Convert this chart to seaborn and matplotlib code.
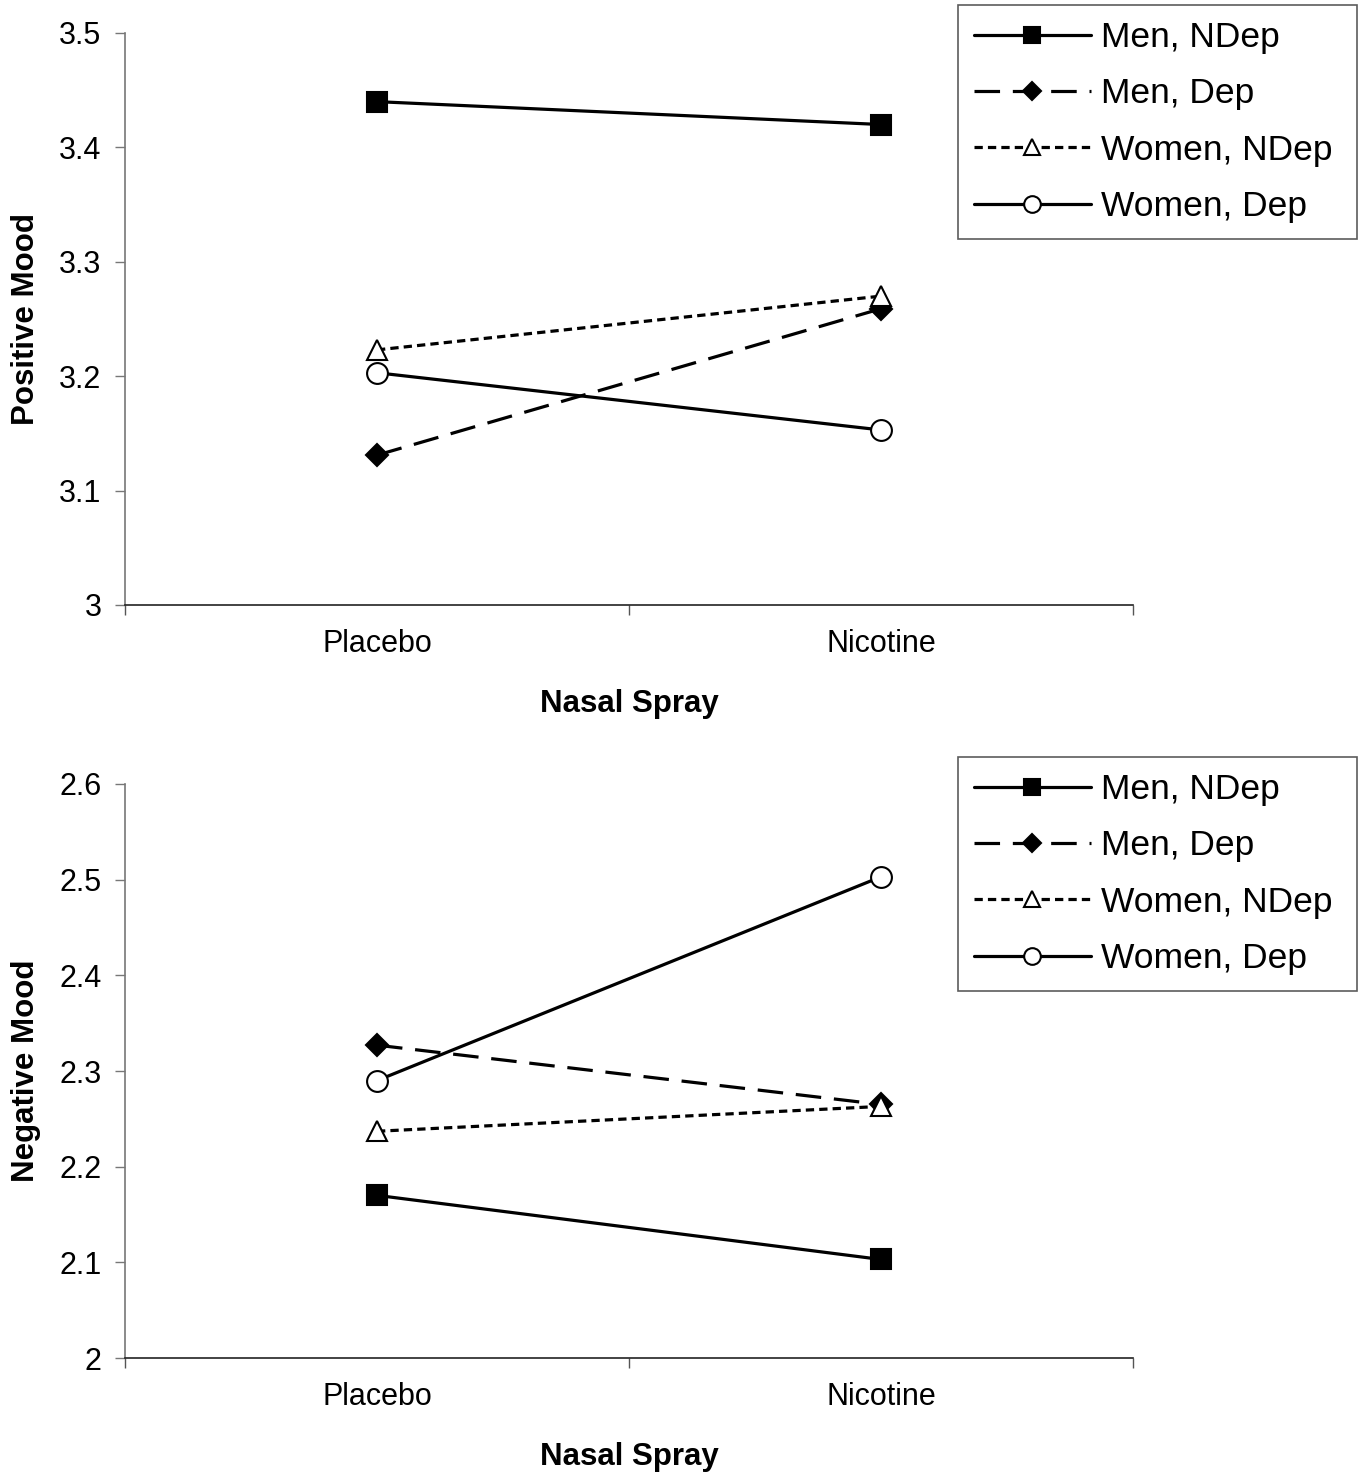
import matplotlib
matplotlib.use("Agg")
import matplotlib.pyplot as plt
import seaborn as sns
import pandas as pd
from matplotlib.ticker import FixedLocator, NullFormatter

sns.set_theme(style="white")
plt.rcParams['font.family'] = ['Liberation Sans', 'DejaVu Sans']
plt.rcParams['text.color'] = 'black'
plt.rcParams['axes.labelcolor'] = 'black'
plt.rcParams['xtick.color'] = 'black'
plt.rcParams['ytick.color'] = 'black'

conditions = ["Placebo", "Nicotine"]
groups = ["Men, NDep", "Men, Dep", "Women, NDep", "Women, Dep"]

positive_mood = {
    "Men, NDep": [3.440, 3.420],
    "Men, Dep": [3.131, 3.259],
    "Women, NDep": [3.223, 3.270],
    "Women, Dep": [3.203, 3.153],
}
negative_mood = {
    "Men, NDep": [2.170, 2.103],
    "Men, Dep": [2.327, 2.265],
    "Women, NDep": [2.237, 2.263],
    "Women, Dep": [2.290, 2.503],
}

styles = {
    "Men, NDep": dict(marker="s", dashes=None, mfc="black", ms=14),
    "Men, Dep": dict(marker="D", dashes=(8, 4), mfc="black", ms=11),
    "Women, NDep": dict(marker="^", dashes=(2.6, 1.6), mfc="white", ms=14),
    "Women, Dep": dict(marker="o", dashes=None, mfc="white", ms=15),
}

def build_df(d):
    rows = []
    for g in groups:
        for c, v in zip(conditions, d[g]):
            rows.append({"Group": g, "Condition": c, "Value": v})
    return pd.DataFrame(rows)

fig = plt.figure(figsize=(13.65, 14.74), dpi=100)
W, H = 1365, 1474
ax1 = fig.add_axes([125 / W, 1 - 605 / H, (1133 - 125) / W, (605 - 33) / H])
ax2 = fig.add_axes([125 / W, 1 - 1358 / H, (1133 - 125) / W, (1358 - 784) / H])

panels = [
    (ax1, build_df(positive_mood), "Positive Mood", (3.0, 3.5), [3.0, 3.1, 3.2, 3.3, 3.4, 3.5],
     ["3", "3.1", "3.2", "3.3", "3.4", "3.5"], 5),
    (ax2, build_df(negative_mood), "Negative Mood", (2.0, 2.6), [2.0, 2.1, 2.2, 2.3, 2.4, 2.5, 2.6],
     ["2", "2.1", "2.2", "2.3", "2.4", "2.5", "2.6"], 757),
]

for ax, df, ylabel, ylim, yticks, yticklabels, legtop in panels:
    for g in groups:
        sub = df[df["Group"] == g]
        st = styles[g]
        sns.lineplot(data=sub, x="Condition", y="Value", ax=ax, color="black",
                     linewidth=2.3, marker=st["marker"], markersize=st["ms"],
                     markerfacecolor=st["mfc"], markeredgecolor="black",
                     markeredgewidth=1.5, label=g, sort=False)
        line = ax.get_lines()[-1]
        if st["dashes"] is not None:
            line.set_dashes(st["dashes"])
    ax.set_xlim(-0.5, 1.5)
    ax.set_ylim(*ylim)
    ax.set_yticks(yticks)
    ax.set_yticklabels(yticklabels, fontsize=22)
    ax.set_xticks([0, 1])
    ax.set_xticklabels(conditions, fontsize=22)
    ax.xaxis.set_minor_locator(FixedLocator([-0.5, 0.5, 1.5]))
    ax.xaxis.set_minor_formatter(NullFormatter())
    ax.tick_params(axis="x", which="major", length=0, pad=17)
    ax.tick_params(axis="x", which="minor", length=7, width=1, color="#555555", direction="out", bottom=True)
    ax.tick_params(axis="y", which="major", length=7, width=1, color="#777777", direction="out", left=True, pad=10)
    ax.set_ylabel(ylabel, fontsize=22.5, fontweight="bold", labelpad=13)
    ax.set_xlabel("Nasal Spray", fontsize=22.5, fontweight="bold", labelpad=22)
    for s in ["top", "right"]:
        ax.spines[s].set_visible(False)
    ax.spines["left"].set_color("#777777")
    ax.spines["left"].set_linewidth(1.2)
    ax.spines["bottom"].set_color("#222222")
    ax.spines["bottom"].set_linewidth(1.2)
    ax.grid(False)
    if ax.get_legend():
        ax.get_legend().remove()
    handles, labels = ax.get_legend_handles_labels()
    leg = fig.legend(handles, labels, loc="upper left", mode="expand",
                     bbox_to_anchor=(958 / W, 1 - (legtop + 230) / H, (1357 - 958) / W, 230 / H),
                     fontsize=25.5, frameon=True, fancybox=False,
                     handlelength=3.3, labelspacing=0.66, borderpad=0.45,
                     handletextpad=0.3, borderaxespad=0, markerscale=0.8)
    leg.get_frame().set_edgecolor("#333333")
    leg.get_frame().set_linewidth(1.2)

fig.savefig("out.png", dpi=100, facecolor="white")
